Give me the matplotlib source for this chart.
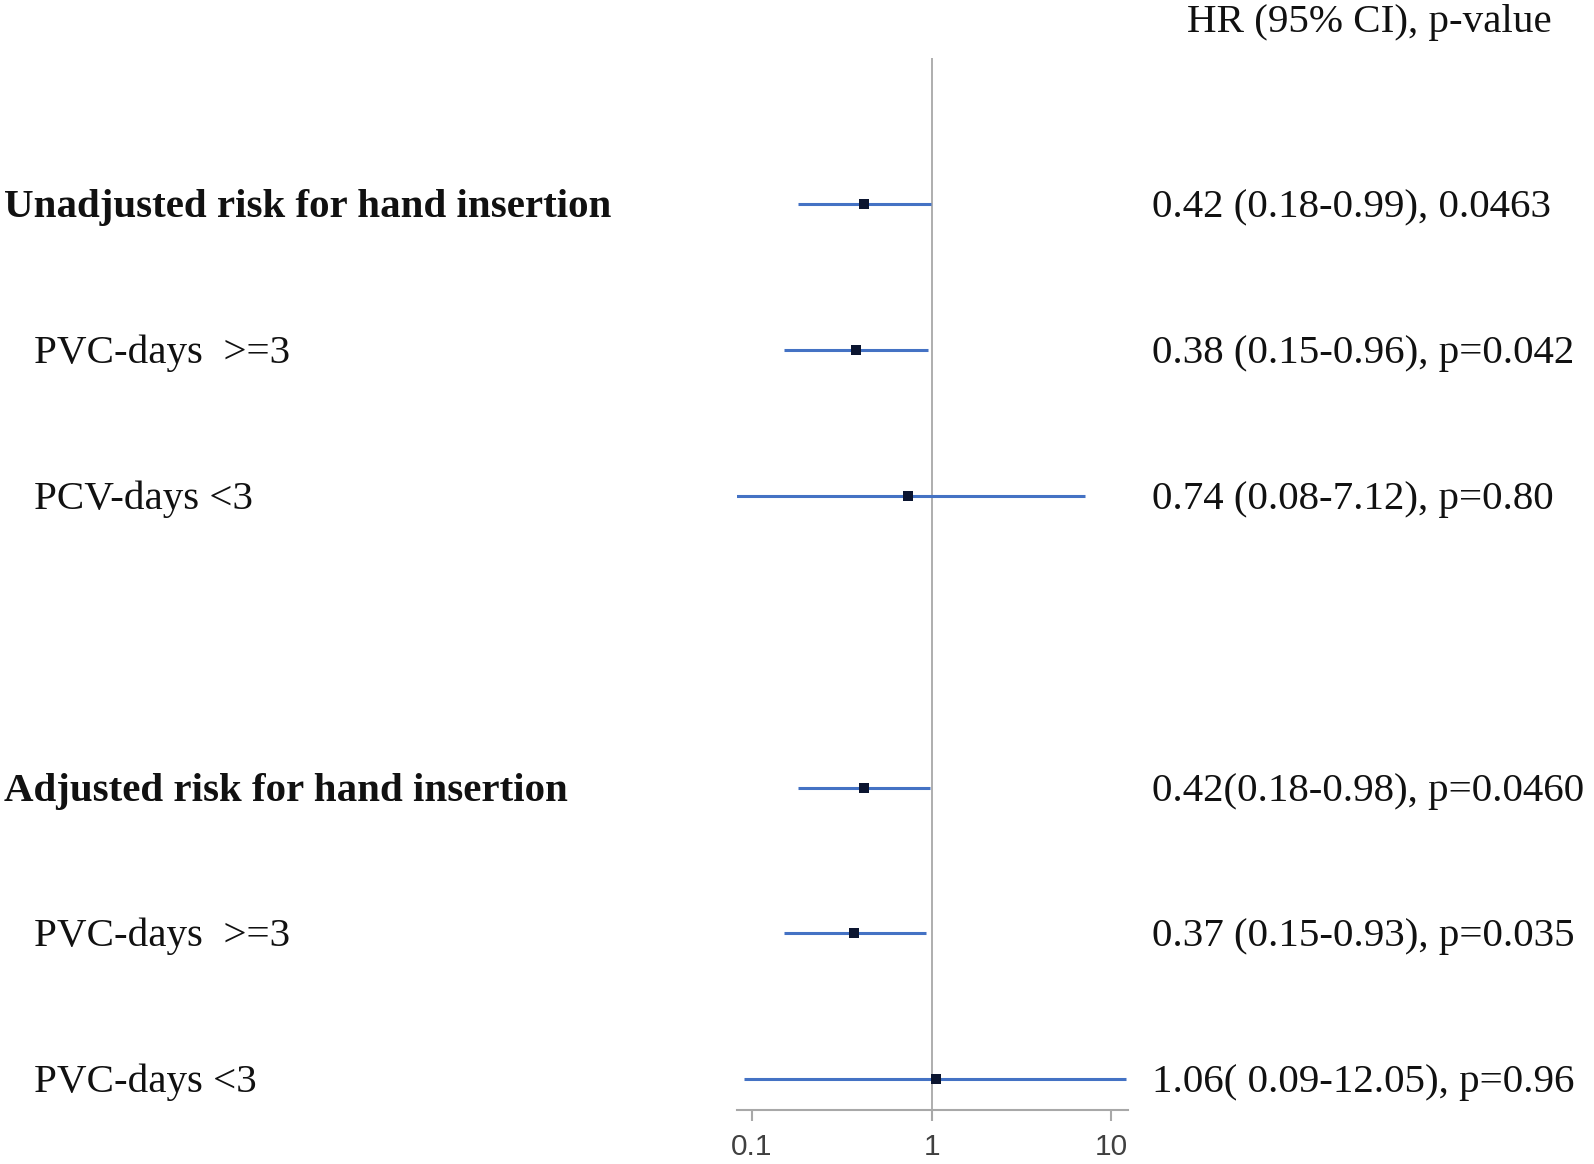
import matplotlib
matplotlib.use("Agg")
import matplotlib.pyplot as plt
import matplotlib.transforms as mtransforms
import numpy as np

# ---- data ----
labels = ["Unadjusted risk for hand insertion", "PVC-days  >=3", "PCV-days <3",
          "Adjusted risk for hand insertion", "PVC-days  >=3", "PVC-days <3"]
is_header = [True, False, False, True, False, False]
hr = [0.42, 0.38, 0.74, 0.42, 0.37, 1.06]
ci_low = [0.18, 0.15, 0.08, 0.18, 0.15, 0.09]
ci_high = [0.99, 0.96, 7.12, 0.98, 0.93, 12.05]
right_text = ["0.42 (0.18-0.99), 0.0463", "0.38 (0.15-0.96), p=0.042",
              "0.74 (0.08-7.12), p=0.80", "0.42(0.18-0.98), p=0.0460",
              "0.37 (0.15-0.93), p=0.035", "1.06( 0.09-12.05), p=0.96"]
header_text = "HR (95% CI), p-value"
xticks = [0.1, 1, 10]
xticklabels = ["0.1", "1", "10"]

# row positions: two groups of three with a gap of two rows
ypos = [0, 1, 2, 4, 5, 6]

W, H = 1594, 1164
fig = plt.figure(figsize=(W / 100, H / 100), dpi=100)
ax = fig.add_axes([737 / W, 1 - 1110 / H, (1128 - 737) / W, (1110 - 58) / H])

ax.set_xscale("log")
ax.set_xlim(0.0824, 12.4)
ax.set_ylim(6.21, -1.0)

ax.axvline(1, color="#a8a8a8", lw=1.3, zorder=1)
for y, h, lo, hi in zip(ypos, hr, ci_low, ci_high):
    ax.plot([lo, hi], [y, y], color="#4472C4", lw=2.2, solid_capstyle="butt", zorder=2)
    ax.plot([h], [y], marker="s", ms=7, mew=0, color="#0b1530", zorder=3)

for s in ["top", "left", "right"]:
    ax.spines[s].set_visible(False)
ax.spines["bottom"].set_color("#a8a8a8")
ax.spines["bottom"].set_linewidth(1.5)
ax.set_yticks([])
ax.set_xticks(xticks)
ax.set_xticklabels(xticklabels)
ax.xaxis.set_minor_locator(matplotlib.ticker.NullLocator())
ax.tick_params(axis="x", direction="out", length=8, width=1.5, color="#a8a8a8",
               labelsize=21.5, labelcolor="#404040", pad=8.5)
for t in ax.get_xticklabels():
    t.set_family(["Liberation Sans", "DejaVu Sans"])

serif = ["Liberation Serif", "DejaVu Serif"]
tr = mtransforms.blended_transform_factory(fig.transFigure, ax.transData)
tr_text = mtransforms.offset_copy(tr, fig=fig, y=-13, units="dots")
for y, lab, hd, rt in zip(ypos, labels, is_header, right_text):
    x0 = 4 / W if hd else 34 / W
    fig.text(x0, y, lab, transform=tr_text, fontsize=29.5, family=serif,
             fontweight="bold" if hd else "normal", va="baseline", ha="left", color="#111111")
    fig.text(1152 / W, y, rt, transform=tr_text, fontsize=29.5, family=serif,
             va="baseline", ha="left", color="#111111")

fig.text(1187 / W, 1 - 32 / H, header_text, fontsize=29.5, family=serif,
         va="baseline", ha="left", color="#111111")

fig.savefig("out.png", dpi=100, facecolor="white")
